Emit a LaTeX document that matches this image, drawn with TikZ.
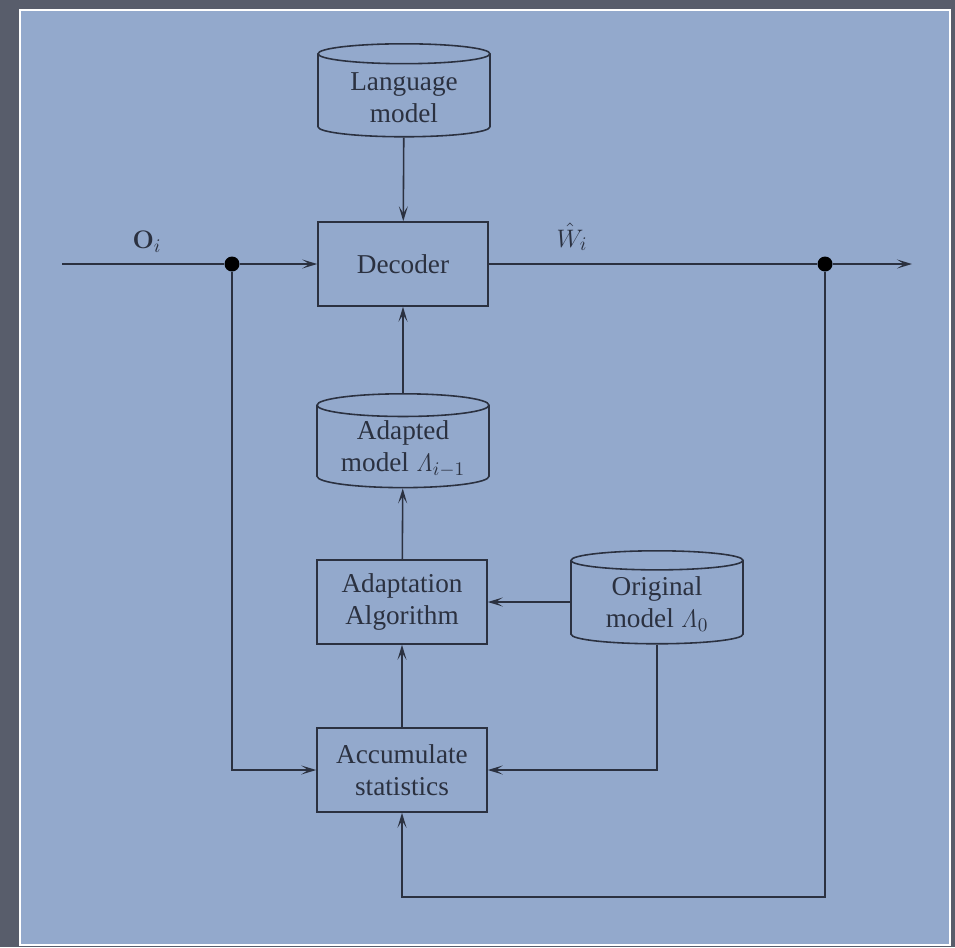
\documentclass[tikz,border=0pt]{standalone}
\usepackage[no-math]{fontspec}
\setmainfont{Liberation Serif}
\usetikzlibrary{shapes.geometric}
\usetikzlibrary{arrows.meta}
\definecolor{slate}{HTML}{585D6B}
\definecolor{panel}{HTML}{93A9CC}
\definecolor{ink}{HTML}{2B3140}

\begin{document}
\begin{tikzpicture}[x=0.02cm, y=-0.02cm,
  line width=0.9pt, draw=ink, text=ink,
  >={Stealth[length=3mm,width=1.8mm,inset=1.4mm]},
  font=\fontsize{15.5}{18}\selectfont,
  block/.style={draw, fill=panel, align=center, minimum width=3.4cm, minimum height=1.68cm},
  store/.style={cylinder, shape border rotate=90, aspect=0.167, draw, fill=panel, align=center,
    inner ysep=2pt, anchor=north, minimum width=3.44cm, minimum height=1.86cm},
  junction/.style={circle, fill=black, inner sep=0pt, minimum size=0.3cm}]
\useasboundingbox (0,0) rectangle (955,947);
\fill[slate] (0,0) rectangle (955,947);
\draw[white, line width=1.6pt, fill=panel] (20,10) rectangle (950,945);

% boxes and stores
\node[store] (lang) at (404,43) {Language\\model};
\node[block] (dec) at (403,264) {Decoder};
\node[store] (adapt) at (403,393) {Adapted\\model $\mathit{\Lambda}_{i-1}$};
\node[block] (algo) at (402,602) {Adaptation\\Algorithm};
\node[store] (orig) at (657,550) {Original\\model $\mathit{\Lambda}_0$};
\node[block] (accu) at (402,770) {Accumulate\\statistics};

% signal path
\node[junction] (split) at (232,264) {};
\node[junction] (tap) at (825,264) {};
\coordinate (in) at (62,264);
\coordinate (out) at (912,264);
\coordinate (back) at (825,897);
\node (obs) at (147,242) {$\mathbf{O}_i$};
\node (hyp) at (572,237) {$\hat{W}_i$};

\draw (in) -- (split);
\draw[->] (split) -- (dec);
\draw (dec) -- (tap);
\draw[->] (tap) -- (out);
\draw[->] (lang) -- (dec);
\draw[->] (adapt) -- (dec);
\draw[->] (algo) -- (adapt);
\draw[->] (accu) -- (algo);
\draw[->] (orig.west |- algo.east) -- (algo.east);
\draw[->] (orig) |- (accu);
\draw[->] (split) |- (accu);
\draw[->] (tap) -- (back) -| (accu);
\end{tikzpicture}
\end{document}
